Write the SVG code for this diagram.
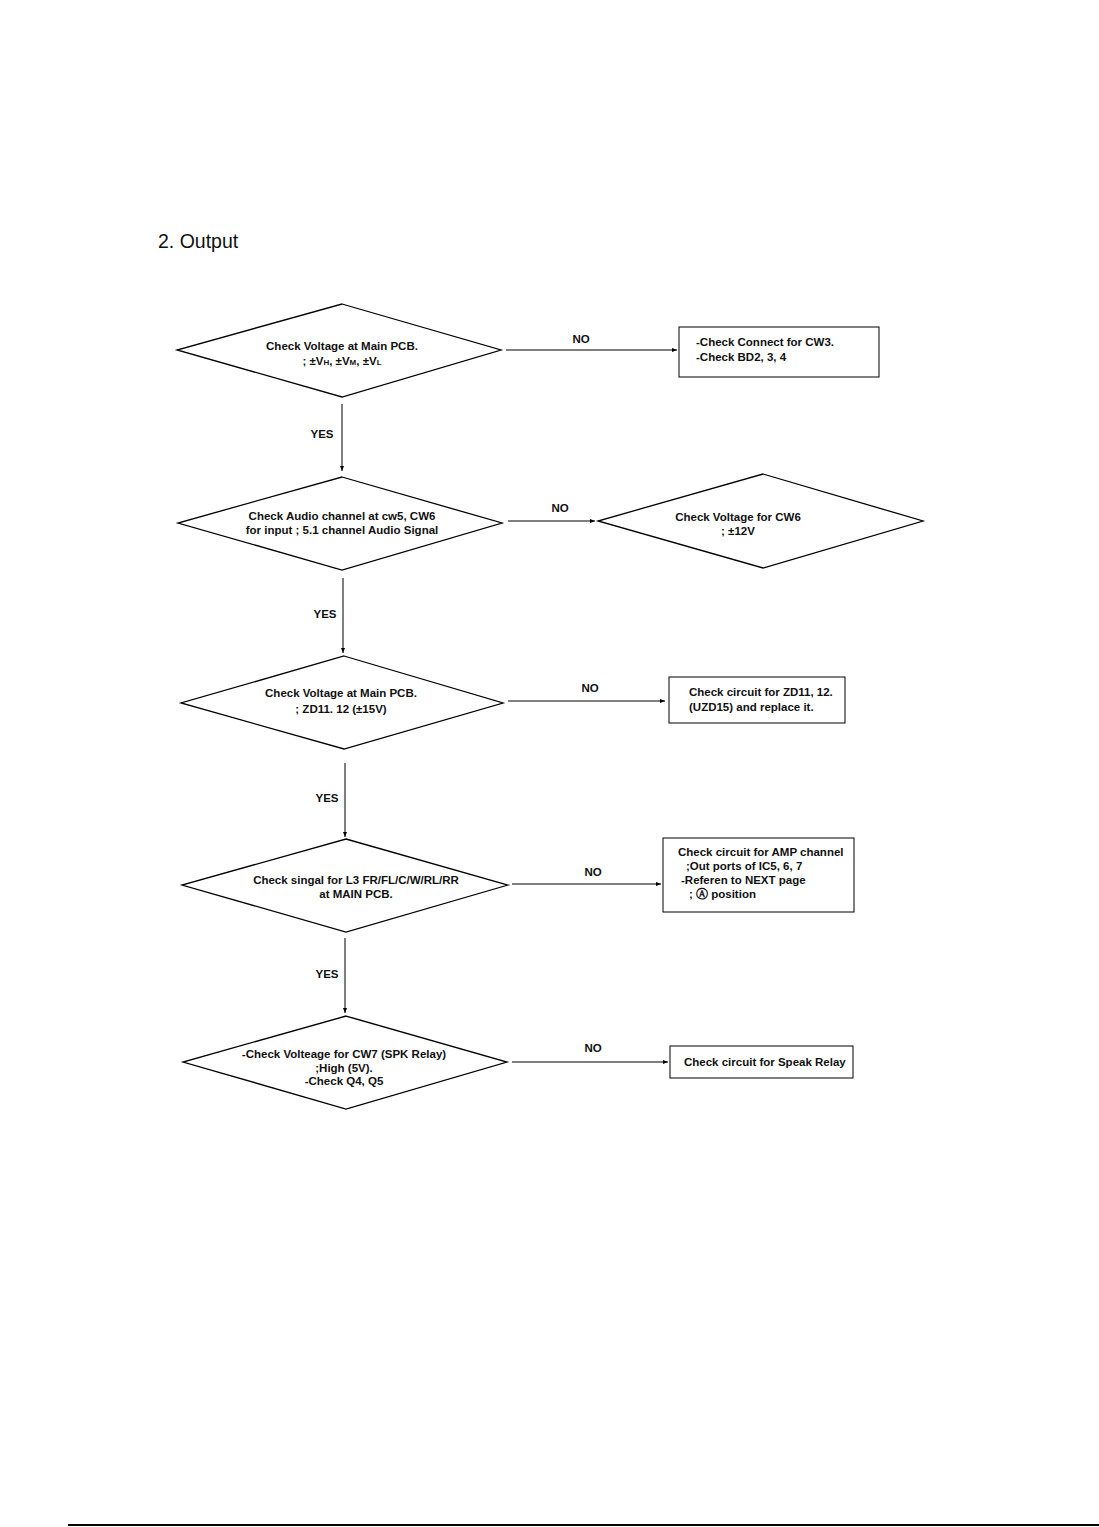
<svg xmlns="http://www.w3.org/2000/svg" width="1099" height="1527" viewBox="0 0 1099 1527">
<style>
.d{fill:#fff;stroke:#000;stroke-width:1.3}
.b{fill:#fff;stroke:#000;stroke-width:1}
.t{font-family:"Liberation Sans",Arial,sans-serif;font-size:11.5px;font-weight:bold;fill:#111}
.m{text-anchor:middle}
.c{stroke:#000;stroke-width:1;fill:none;marker-end:url(#ah)}
.s{font-size:8px}
</style>
<defs>
<marker id="ah" viewBox="0 0 10 10" refX="10" refY="5" markerWidth="5" markerHeight="5" orient="auto" markerUnits="userSpaceOnUse">
<path d="M0,1 L10,5 L0,9 z" fill="#000"/>
</marker>
</defs>
<rect width="1099" height="1527" fill="#fff"/>
<text x="158" y="248" font-family="Liberation Sans, Arial, sans-serif" font-size="19.5" fill="#111">2. Output</text>

<g id="connectors">
<line class="c" x1="506" y1="350" x2="677" y2="350"/>
<text class="t m" x="581" y="343">NO</text>
<line class="c" x1="342" y1="404" x2="342" y2="471"/>
<text class="t m" x="322" y="438">YES</text>
<line class="c" x1="508" y1="521" x2="595" y2="521"/>
<text class="t m" x="560" y="512">NO</text>
<line class="c" x1="343" y1="578" x2="343" y2="653"/>
<text class="t m" x="325" y="618">YES</text>
<line class="c" x1="508" y1="701" x2="665" y2="701"/>
<text class="t m" x="590" y="692">NO</text>
<line class="c" x1="345" y1="763" x2="345" y2="837"/>
<text class="t m" x="327" y="802">YES</text>
<line class="c" x1="512" y1="884" x2="661" y2="884"/>
<text class="t m" x="593" y="876">NO</text>
<line class="c" x1="345" y1="938" x2="345" y2="1013"/>
<text class="t m" x="327" y="978">YES</text>
<line class="c" x1="512" y1="1062" x2="668" y2="1062"/>
<text class="t m" x="593" y="1052">NO</text>
</g>

<g id="n1">
<polygon class="d" points="342,304 501,350 342,397 177,350"/>
<text class="t m" x="342" y="350">Check Voltage at Main PCB.</text>
<text class="t m" x="342" y="365">; ±V<tspan class="s">H</tspan>, ±V<tspan class="s">M</tspan>, ±V<tspan class="s">L</tspan></text>
</g>
<g id="n1no">
<rect class="b" x="679" y="327" width="200" height="50"/>
<text class="t" x="696" y="346">-Check Connect for CW3.</text>
<text class="t" x="696" y="361">-Check BD2, 3, 4</text>
</g>

<g id="n2">
<polygon class="d" points="342,477 502,523 342,570 178,523"/>
<text class="t m" x="342" y="520">Check Audio channel at cw5, CW6</text>
<text class="t m" x="342" y="534">for input ; 5.1 channel Audio Signal</text>
</g>
<g id="n2no">
<polygon class="d" points="763,474 923,521 763,568 598,521"/>
<text class="t m" x="738" y="521">Check Voltage for CW6</text>
<text class="t m" x="738" y="535">; ±12V</text>
</g>

<g id="n3">
<polygon class="d" points="344,656 503,703 344,749 181,703"/>
<text class="t m" x="341" y="697">Check Voltage at Main PCB.</text>
<text class="t m" x="341" y="713">; ZD11. 12 (±15V)</text>
</g>
<g id="n3no">
<rect class="b" x="669" y="677" width="176" height="46"/>
<text class="t" x="689" y="696">Check circuit for ZD11, 12.</text>
<text class="t" x="689" y="711">(UZD15) and replace it.</text>
</g>

<g id="n4">
<polygon class="d" points="346,839 508,885 346,932 182,885"/>
<text class="t m" x="356" y="884">Check singal for L3 FR/FL/C/W/RL/RR</text>
<text class="t m" x="356" y="898">at MAIN PCB.</text>
</g>
<g id="n4no">
<rect class="b" x="663" y="838" width="191" height="74"/>
<text class="t" x="678" y="856">Check circuit for AMP channel</text>
<text class="t" x="686" y="870">;Out ports of IC5, 6, 7</text>
<text class="t" x="681" y="884">-Referen to NEXT page</text>
<text class="t" x="689" y="898">; Ⓐ position</text>
</g>

<g id="n5">
<polygon class="d" points="346,1016 507,1062 346,1109 183,1062"/>
<text class="t m" x="344" y="1058">-Check Volteage for CW7 (SPK Relay)</text>
<text class="t m" x="344" y="1072">;High (5V).</text>
<text class="t m" x="344" y="1085">-Check Q4, Q5</text>
</g>
<g id="n5no">
<rect class="b" x="670" y="1046" width="183" height="32"/>
<text class="t" x="684" y="1066">Check circuit for Speak Relay</text>
</g>

<line x1="68" y1="1525" x2="1099" y2="1525" stroke="#000" stroke-width="2"/>
</svg>
